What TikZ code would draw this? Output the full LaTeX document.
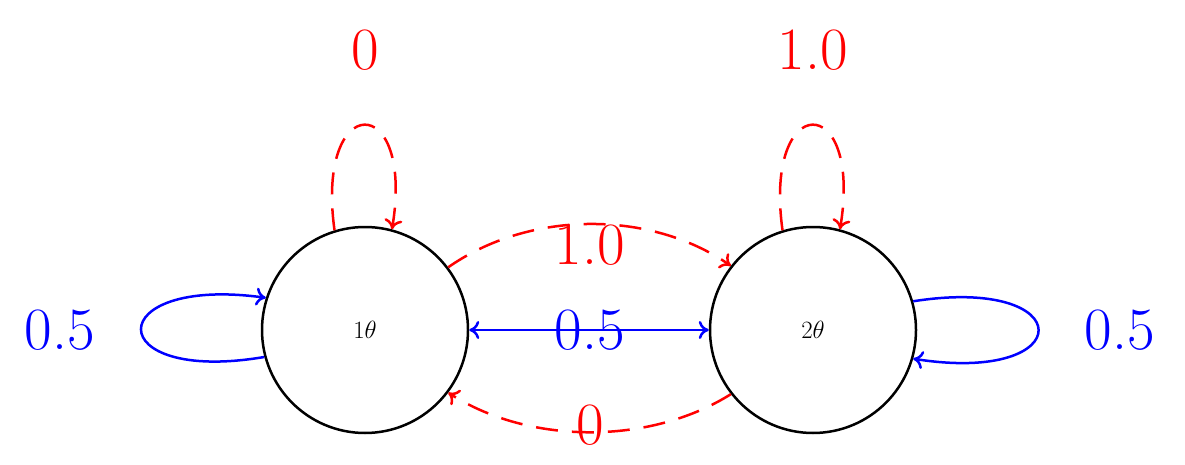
\documentclass[tikz,border=0pt]{standalone}
\usetikzlibrary{arrows.meta}
\begin{document}
\begin{tikzpicture}[x=1pt,y=-1pt,
  st/.style={circle,draw,line width=2.5pt,minimum size=206pt,inner sep=0pt,font=\fontsize{60}{62}\selectfont},
  lbl/.style={font=\fontsize{60}{62}\selectfont,inner sep=0pt},
  red edge/.style={red,dashed,dash pattern=on 22pt off 14pt,line width=2.5pt,-{To[length=10pt,width=18pt]}},
  blue edge/.style={blue,line width=2.5pt,-{To[length=10pt,width=18pt]}}]
\useasboundingbox (0,0) rectangle (1185,465);
\node[st] (n1) at (365,330) {$1\theta$};
\node[st] (n2) at (813,330) {$2\theta$};
% top loops
\draw[red edge] (n1.107) .. controls (315,90) and (415,90) .. (n1.75);
\node[lbl,red] (l0) at (365,50) {0};
\draw[red edge] (n2.107) .. controls (763,90) and (863,90) .. (n2.75);
\node[lbl,red] (l1) at (813,50) {1.0};
% side loops
\draw[blue edge] (n1.195) .. controls (100,385) and (100,275) .. (n1.162);
\node[lbl,blue] (lb1) at (60,330) {0.5};
\draw[blue edge] (n2.16) .. controls (1080,275) and (1080,385) .. (n2.-16);
\node[lbl,blue] (lb2) at (1120,330) {0.5};
% middle
\draw[red edge] (n1.37) .. controls (530,210) and (650,210) .. (n2.142);
\node[lbl,red] (m1) at (590,245) {1.0};
\draw[blue edge,{To[length=10pt,width=18pt]}-{To[length=10pt,width=18pt]}] (n1) -- (n2);
\node[lbl,blue] (m2) at (590,330) {0.5};
\draw[red edge] (n2.-142) .. controls (650,445) and (530,445) .. (n1.-37);
\node[lbl,red] (m3) at (590,425) {0};
\end{tikzpicture}
\end{document}
